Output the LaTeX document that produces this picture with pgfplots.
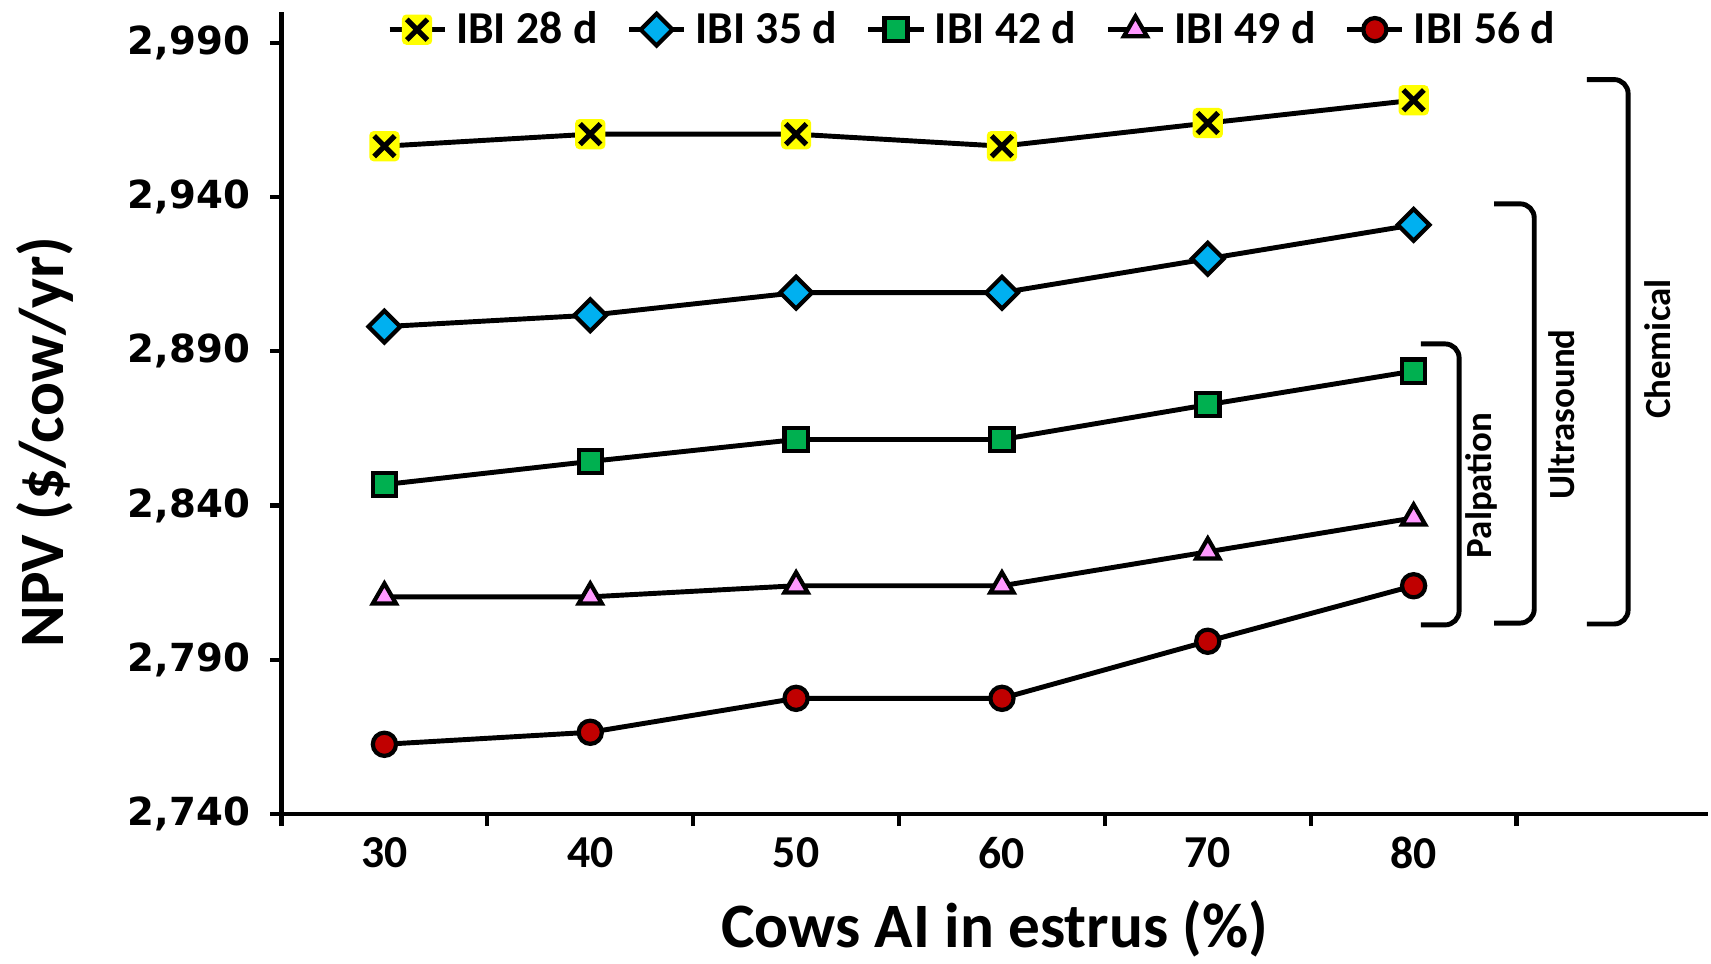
\documentclass[border=0pt]{standalone}
\usepackage{pgfplots}
\pgfplotsset{compat=1.18}
\usepackage{fontspec}
\setmainfont{Carlito}
\newfontfamily\tickfont{DejaVu Sans}
\definecolor{xyellow}{HTML}{FFFF00}
\definecolor{xblue}{HTML}{00B0F0}
\definecolor{xgreen}{HTML}{00B050}
\definecolor{xpink}{HTML}{FF99FF}
\definecolor{xred}{HTML}{C00000}
\pgfdeclareplotmark{ybx}{%
  \pgfsetcornersarced{\pgfpoint{1.2pt}{1.2pt}}%
  \pgfpathrectangle{\pgfpoint{-\pgfplotmarksize}{-\pgfplotmarksize}}{\pgfpoint{2\pgfplotmarksize}{2\pgfplotmarksize}}%
  \pgfsetfillcolor{xyellow}\pgfusepath{fill}%
  \pgfsetcornersarced{\pgfpointorigin}%
  \pgfsetlinewidth{1.5pt}\pgfsetstrokecolor{black}%
  \pgfpathmoveto{\pgfpoint{-0.68\pgfplotmarksize}{-0.68\pgfplotmarksize}}%
  \pgfpathlineto{\pgfpoint{0.68\pgfplotmarksize}{0.68\pgfplotmarksize}}%
  \pgfpathmoveto{\pgfpoint{-0.68\pgfplotmarksize}{0.68\pgfplotmarksize}}%
  \pgfpathlineto{\pgfpoint{0.68\pgfplotmarksize}{-0.68\pgfplotmarksize}}%
  \pgfusepath{stroke}}
\begin{document}
\begin{tikzpicture}
\useasboundingbox (0,0) rectangle (17.11cm,9.63cm);
\begin{axis}[
  at={(2.815cm,1.49cm)}, anchor=south west,
  scale only axis, width=14.265cm, height=8.02cm,
  xmin=-0.5, xmax=6.43, ymin=2740, ymax=3000,
  axis x line=bottom, axis y line=left,
  axis line style={-, line width=1.4pt, black},
  tick align=outside,
  ytick={2740,2790,2840,2890,2940,2990},
  major tick length=0.11cm,
  minor tick length=0.12cm,
  ytick style={line width=1.2pt, black},
  xtick={0,1,2,3,4,5},
  xticklabels={30,40,50,60,70,80},
  major x tick style={draw=none},
  minor xtick={-0.5,0.5,1.5,2.5,3.5,4.5,5.5},
  minor x tick style={line width=1.2pt, black},
  /pgf/number format/.cd, 1000 sep={,}, assume math mode=true, /pgfplots/.cd,
  yticklabel style={font=\tickfont\bfseries\fontsize{11}{13}\selectfont, xshift=-0.08cm},
  xticklabel style={font=\bfseries\fontsize{13}{15}\selectfont},
  xlabel={Cows AI in estrus (\%)},
  ylabel={NPV (\$/cow/yr)},
  xlabel style={font=\bfseries\fontsize{18}{21}\selectfont, at={(axis description cs:0.5,-0.143)}, anchor=center, inner sep=0pt},
  ylabel style={font=\bfseries\fontsize{18}{21}\selectfont, at={(axis description cs:-0.1658,0.464)}, anchor=center, rotate=0},
  clip=false,
  legend columns=5,
  legend style={draw=none, fill=none, at={(axis description cs:0.486,0.978)}, anchor=center,
    font=\bfseries\fontsize{13}{15}\selectfont,
    /tikz/every even column/.append style={column sep=0.22cm},
    /tikz/every odd column/.append style={column sep=0.02cm},
    inner xsep=0pt, inner ysep=0pt},
  legend image code/.code={\draw[#1, mark repeat=2, mark phase=2] plot coordinates {(0cm,0cm) (0.275cm,0cm) (0.55cm,0cm)};},
  every axis plot/.append style={line width=1.4pt, black},
]
\addplot[mark=ybx, mark size=4.3pt] coordinates {(0,2956.5) (1,2960.4) (2,2960.4) (3,2956.5) (4,2964) (5,2971.4)};
\addlegendentry{IBI 28 d}
\addplot[mark=square*, mark size=3.2pt, mark options={fill=xblue, rotate=45, line width=1.2pt}] coordinates {(0,2898) (1,2901.7) (2,2909) (3,2909) (4,2920) (5,2931)};
\addlegendentry{IBI 35 d}
\addplot[mark=square*, mark size=3.3pt, mark options={fill=xgreen, line width=1.2pt, rounded corners=0.8pt}] coordinates {(0,2846.8) (1,2854.3) (2,2861.4) (3,2861.4) (4,2872.7) (5,2883.6)};
\addlegendentry{IBI 42 d}
\addplot[mark=triangle*, mark size=3.8pt, mark options={fill=xpink, line width=1.2pt}] coordinates {(0,2810.4) (1,2810.4) (2,2814) (3,2814) (4,2825) (5,2836)};
\addlegendentry{IBI 49 d}
\addplot[mark=*, mark size=3.3pt, mark options={fill=xred, line width=1.2pt}] coordinates {(0,2762.6) (1,2766.5) (2,2777.5) (3,2777.5) (4,2796) (5,2814)};
\addlegendentry{IBI 56 d}
\draw[line width=1.4pt, rounded corners=4pt] (axis cs:5.035,2892.4) -- (axis cs:5.221,2892.4) -- (axis cs:5.221,2801.3) -- (axis cs:5.035,2801.3);
\draw[line width=1.4pt, rounded corners=4pt] (axis cs:5.391,2937.8) -- (axis cs:5.586,2937.8) -- (axis cs:5.586,2801.9) -- (axis cs:5.391,2801.9);
\draw[line width=1.4pt, rounded corners=4pt] (axis cs:5.841,2978.1) -- (axis cs:6.042,2978.1) -- (axis cs:6.042,2801.6) -- (axis cs:5.841,2801.6);
\node[rotate=90, font=\bfseries\fontsize{10.5}{12}\selectfont] at (axis cs:5.327,2846.5) {Palpation};
\node[rotate=90, font=\bfseries\fontsize{10.5}{12}\selectfont] at (axis cs:5.719,2869.5) {Ultrasound};
\node[rotate=90, font=\bfseries\fontsize{10.5}{12}\selectfont] at (axis cs:6.185,2890.7) {Chemical};
\end{axis}
\end{tikzpicture}
\end{document}
